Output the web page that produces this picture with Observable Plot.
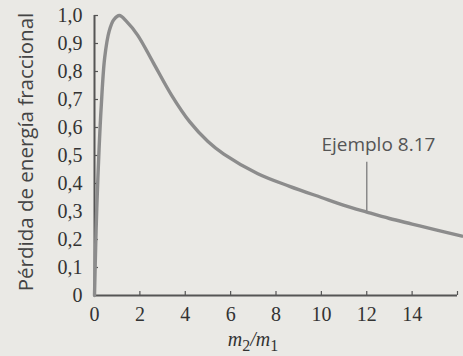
<!DOCTYPE html>
<html>
<head>
<meta charset="utf-8">
<script src="https://cdn.jsdelivr.net/npm/d3@7"></script>
<script src="https://cdn.jsdelivr.net/npm/@observablehq/plot@0.6"></script>
<style>
  html, body { margin: 0; padding: 0; background: #eae9e5; }
  #chart svg { display: block; background: #eae9e5; }
</style>
</head>
<body>
<div id="chart"></div>
<script>
// Curve: mass ratio m2/m1 vs fractional energy loss
const ratio = [0, 0.05, 0.1, 0.2, 0.3, 0.45, 0.65, 0.85, 1.1, 1.4, 1.9, 2.6, 3.4, 4.2, 5.0, 5.7, 7.2, 8.6, 10.0, 11.0, 12.0, 13.0, 14.0, 15.0, 16.2];
const loss  = [0, 0.17, 0.31, 0.52, 0.68, 0.85, 0.945, 0.985, 1.0, 0.98, 0.93, 0.83, 0.715, 0.62, 0.55, 0.505, 0.435, 0.39, 0.35, 0.322, 0.298, 0.275, 0.255, 0.235, 0.212];

const xTickLabels = [0, 2, 4, 6, 8, 10, 12, 14];
const xTickMarks = [2, 4, 6, 8, 10, 12, 14, 16];
const yTickLabels = [0, 0.1, 0.2, 0.3, 0.4, 0.5, 0.6, 0.7, 0.8, 0.9, 1.0];
const yTickMarks = [0.1, 0.2, 0.3, 0.4, 0.5, 0.6, 0.7, 0.8, 0.9, 1.0];

const yLabel = "Pérdida de energía fraccional";
const xLabel = "m2/m1";

const noteText = ["Ejemplo 8.17"];
const noteTextX = [10.0];
const noteTextY = [0.537];
const noteLineX = [12];
const noteLineY1 = [0.30];
const noteLineY2 = [0.476];

const curve = ratio.map((r, i) => ({r, v: loss[i]}));
const notes = noteText.map((t, i) => ({t, x: noteTextX[i], y: noteTextY[i]}));
const noteLines = noteLineX.map((x, i) => ({x, y1: noteLineY1[i], y2: noteLineY2[i]}));

const serif = "Liberation Serif, serif";
const sans = "Open Sans, sans-serif";
const axisColor = "#555";
const textColor = "#333";

const chart = Plot.plot({
  width: 463,
  height: 356,
  marginLeft: 94,
  marginRight: 6,
  marginTop: 15,
  marginBottom: 61,
  style: {background: "#eae9e5", overflow: "visible"},
  x: {domain: [0, 16]},
  y: {domain: [0, 1]},
  marks: [
    Plot.axisX({ticks: xTickLabels, tickSize: 0, tickPadding: 11, label: null,
      fontSize: 20, fontFamily: serif, fill: textColor, tickFormat: d => String(d)}),
    Plot.axisY({ticks: yTickLabels, tickSize: 0, tickPadding: 12, label: null,
      fontSize: 20, fontFamily: serif, fill: textColor,
      tickFormat: d => d === 0 ? "0" : d.toFixed(1).replace(".", ",")}),
    Plot.ruleX(xTickMarks, {x: d => d, y1: 0, y2: 0, insetTop: -4, stroke: axisColor, strokeWidth: 1.2}),
    Plot.ruleY(yTickMarks, {y: d => d, x1: 0, x2: 0, insetRight: -4, stroke: axisColor, strokeWidth: 1.2}),
    Plot.ruleY([0], {stroke: axisColor, strokeWidth: 2}),
    Plot.ruleX([0], {y1: 0, y2: 1, insetTop: -1, stroke: axisColor, strokeWidth: 2}),
    Plot.ruleX(noteLines, {x: "x", y1: "y1", y2: "y2", stroke: "#8a8a8a", strokeWidth: 1.5}),
    Plot.line(curve, {x: "r", y: "v", curve: "catmull-rom", stroke: "#8c8c8c", strokeWidth: 3.4, clip: false}),
    Plot.text(notes, {x: "x", y: "y", text: "t", textAnchor: "start", fontSize: 19, fontFamily: sans, fill: "#555", letterSpacing: 0.8}),
    Plot.text([yLabel], {frameAnchor: "left", textAnchor: "middle", rotate: -90, dx: -67.6, dy: -3.5, fontSize: 20.5, fontFamily: sans, fill: "#444", text: d => d}),
    Plot.text([xLabel], {frameAnchor: "bottom", textAnchor: "middle", dx: -23, dy: 50, fontSize: 20, fontFamily: serif, fontStyle: "italic", fill: textColor, text: d => d})
  ]
});

document.getElementById("chart").appendChild(chart);

// Turn the numbers of the x label into subscripts
d3.select(chart).selectAll("text").filter(function() { return this.textContent === xLabel; })
  .each(function() {
    const t = d3.select(this);
    t.text(null);
    const parts = [["m", false], ["2", true], ["/", false], ["m", false], ["1", true]];
    for (const [s, sub] of parts) {
      const ts = t.append("tspan").text(s);
      if (sub) ts.attr("font-size", "16").attr("baseline-shift", "-30%").attr("font-style", "normal");
    }
  });
</script>
</body>
</html>
